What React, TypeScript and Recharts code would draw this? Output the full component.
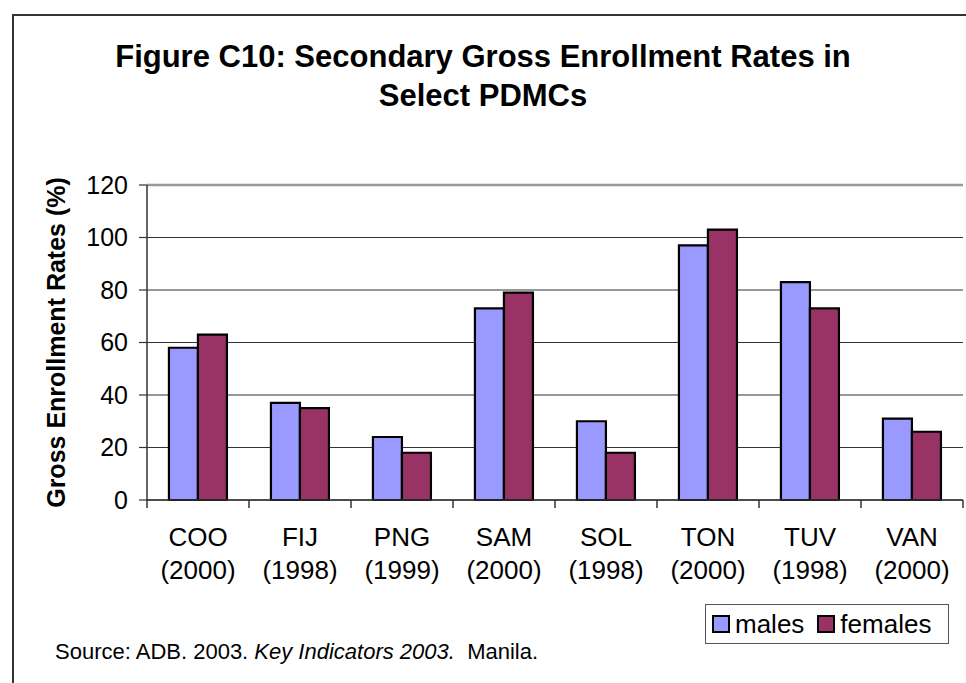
import React from "react";
import {
  BarChart,
  Bar,
  XAxis,
  YAxis,
  CartesianGrid,
  Legend,
  ReferenceLine,
} from "recharts";

const countries = ["COO", "FIJ", "PNG", "SAM", "SOL", "TON", "TUV", "VAN"];
const years = ["2000", "1998", "1999", "2000", "1998", "2000", "1998", "2000"];
const males = [58, 37, 24, 73, 30, 97, 83, 31];
const females = [63, 35, 18, 79, 18, 103, 73, 26];
const yTicks = [0, 20, 40, 60, 80, 100, 120];

const data = countries.map((c, i) => ({
  name: c,
  year: years[i],
  males: males[i],
  females: females[i],
}));

const FONT = "'Liberation Sans', Arial, sans-serif";
const BAND = 102; // width of one category on the x axis

function XTick(props: any) {
  const { x, y, payload, index } = props;
  const row = data[index];
  return (
    <g>
      <line x1={x - BAND / 2} y1={y - 8} x2={x - BAND / 2} y2={y} stroke="#333" strokeWidth={1.5} />
      {index === data.length - 1 && (
        <line x1={x + BAND / 2} y1={y - 8} x2={x + BAND / 2} y2={y} stroke="#333" strokeWidth={1.5} />
      )}
      <text x={x} y={y} textAnchor="middle" fontSize={26} fontFamily={FONT} fill="#000">
        <tspan x={x} dy={38}>{payload.value}</tspan>
        <tspan x={x} dy={33}>({row ? row.year : ""})</tspan>
      </text>
    </g>
  );
}

function LegendBox() {
  const item = (color: string, label: string, gap: number) => (
    <span style={{ display: "inline-flex", alignItems: "center", marginRight: gap }}>
      <span
        style={{
          display: "inline-block",
          width: 14,
          height: 14,
          background: color,
          border: "2px solid #000",
          marginRight: 5,
        }}
      />
      {label}
    </span>
  );
  return (
    <div
      style={{
        boxSizing: "border-box",
        height: 40,
        width: 244,
        border: "1.5px solid #555",
        display: "flex",
        alignItems: "center",
        paddingLeft: 6,
        fontFamily: FONT,
        fontSize: 26,
        color: "#000",
        background: "#fff",
      }}
    >
      {item("#9999FF", "males", 13)}
      {item("#993366", "females", 0)}
    </div>
  );
}

export default function App() {
  return (
    <div
      style={{
        position: "fixed",
        left: 0,
        top: 0,
        width: 966,
        height: 683,
        background: "#fff",
        overflow: "hidden",
      }}
    >
      <div
        style={{
          position: "absolute",
          left: 12,
          top: 14,
          width: 980,
          height: 700,
          borderLeft: "2px solid #333",
          borderTop: "2px solid #333",
        }}
      />
      <div
        style={{
          position: "absolute",
          left: 0,
          top: 37,
          width: 966,
          textAlign: "center",
          fontFamily: FONT,
          fontWeight: "bold",
          fontSize: 31,
          lineHeight: "39px",
          color: "#000",
        }}
      >
        Figure C10: Secondary Gross Enrollment Rates in
        <br />
        Select PDMCs
      </div>
      <div style={{ position: "absolute", left: 0, top: 0 }}>
        <BarChart
          width={966}
          height={683}
          data={data}
          margin={{ top: 185, right: 3, left: 0, bottom: 63 }}
          barCategoryGap="21.5%"
          barGap={0}
        >
          <CartesianGrid vertical={false} stroke="#333" strokeWidth={1.2} />
          <XAxis
            dataKey="name"
            height={80}
            interval={0}
            tickLine={false}
            tick={<XTick />}
            axisLine={{ stroke: "#333", strokeWidth: 1.5 }}
          />
          <YAxis
            width={147}
            domain={[0, 120]}
            ticks={yTicks}
            interval={0}
            tickSize={8}
            tickMargin={11}
            tick={{ fontSize: 25, fontFamily: FONT, fill: "#000" }}
            axisLine={{ stroke: "#333", strokeWidth: 1.5 }}
            tickLine={{ stroke: "#333", strokeWidth: 1.2 }}
            label={{
              value: "Gross Enrollment Rates (%)",
              angle: -90,
              position: "center",
              dx: -17,
              style: {
                fontSize: 25,
                fontWeight: "bold",
                fontFamily: FONT,
                fill: "#000",
                textAnchor: "middle",
              },
            }}
          />
          <ReferenceLine y={120} stroke="#999" strokeWidth={2.5} />
          <Legend
            verticalAlign="bottom"
            align="right"
            content={<LegendBox />}
            wrapperStyle={{ right: 17, bottom: 39, width: 244, height: 40, left: "auto" }}
          />
          <Bar dataKey="males" fill="#9999FF" stroke="#000" strokeWidth={2.2} isAnimationActive={false} />
          <Bar dataKey="females" fill="#993366" stroke="#000" strokeWidth={2.2} isAnimationActive={false} />
        </BarChart>
      </div>
      <div
        style={{
          position: "absolute",
          left: 55,
          top: 639,
          fontFamily: FONT,
          fontSize: 22,
          color: "#000",
          whiteSpace: "pre",
        }}
      >
        Source: ADB. 2003. <i>Key Indicators 2003.</i>  Manila.
      </div>
    </div>
  );
}
